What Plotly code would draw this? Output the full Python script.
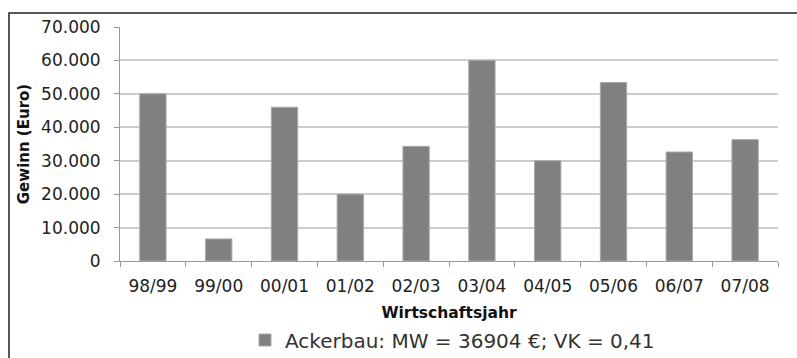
import plotly.graph_objects as go

years = ["98/99", "99/00", "00/01", "01/02", "02/03", "03/04", "04/05", "05/06", "06/07", "07/08"]
gewinn = [50000, 6600, 46000, 20000, 34300, 60000, 30000, 53400, 32600, 36300]
series_name = "Ackerbau: MW = 36904 €; VK = 0,41"
y_ticks = [0, 10000, 20000, 30000, 40000, 50000, 60000, 70000]

W, H = 797, 358
L, R, T, B = 120, 19, 27, 97
pw, ph = W - L - R, H - T - B

def px_x(x):
    return (x - L) / pw

def px_y(y):
    return 1 - (y - T) / ph

fig = go.Figure()
fig.add_trace(go.Bar(
    x=years, y=gewinn, name=series_name,
    marker=dict(color="#808080", line=dict(color="#a8a8a8", width=1)),
    showlegend=True,
))

font = "DejaVu Sans, Verdana, sans-serif"
fig.update_layout(
    width=W, height=H,
    margin=dict(l=L, r=R, t=T, b=B, autoexpand=False),
    paper_bgcolor="white", plot_bgcolor="white",
    separators=",.",
    bargap=0.6,
    font=dict(family=font, color="#222222", size=17),
    showlegend=True,
    legend=dict(orientation="h", x=px_x(245), xanchor="left",
                y=px_y(340), yanchor="middle",
                font=dict(size=20, color="#333333"),
                tracegroupgap=0, bgcolor="rgba(0,0,0,0)"),
    xaxis=dict(
        automargin=False,
        showline=True, linecolor="#9a9a9a", linewidth=1,
        ticks="outside", ticklen=5, tickcolor="#9a9a9a", tickson="boundaries",
        tickfont=dict(size=17, color="#222222"),
        ticklabelstandoff=10,
        title=dict(text="<b>Wirtschaftsjahr</b>", font=dict(size=15.5, color="#111111"), standoff=11),
        showgrid=False,
    ),
    yaxis=dict(
        automargin=False,
        range=[0, 70000], tickvals=y_ticks, tickformat=",.0f",
        showline=True, linecolor="#9a9a9a", linewidth=1,
        ticks="outside", ticklen=5, tickcolor="#9a9a9a",
        tickfont=dict(size=17, color="#222222"),
        ticklabelstandoff=10,
        showgrid=True, gridcolor="#cccccc", gridwidth=1.5,
        zeroline=False,
        title=dict(text="<b>Gewinn (Euro)</b>", font=dict(size=15, color="#111111"), standoff=7),
    ),
)

fig.add_shape(type="rect", xref="paper", yref="paper",
              x0=px_x(9), x1=px_x(805), y0=px_y(370), y1=px_y(13),
              line=dict(color="#222222", width=1.5), fillcolor="rgba(0,0,0,0)", layer="above")

fig.write_html("out.html", config={"displayModeBar": False},
               post_script="document.body.style.margin='0';document.body.style.overflow='hidden';")
